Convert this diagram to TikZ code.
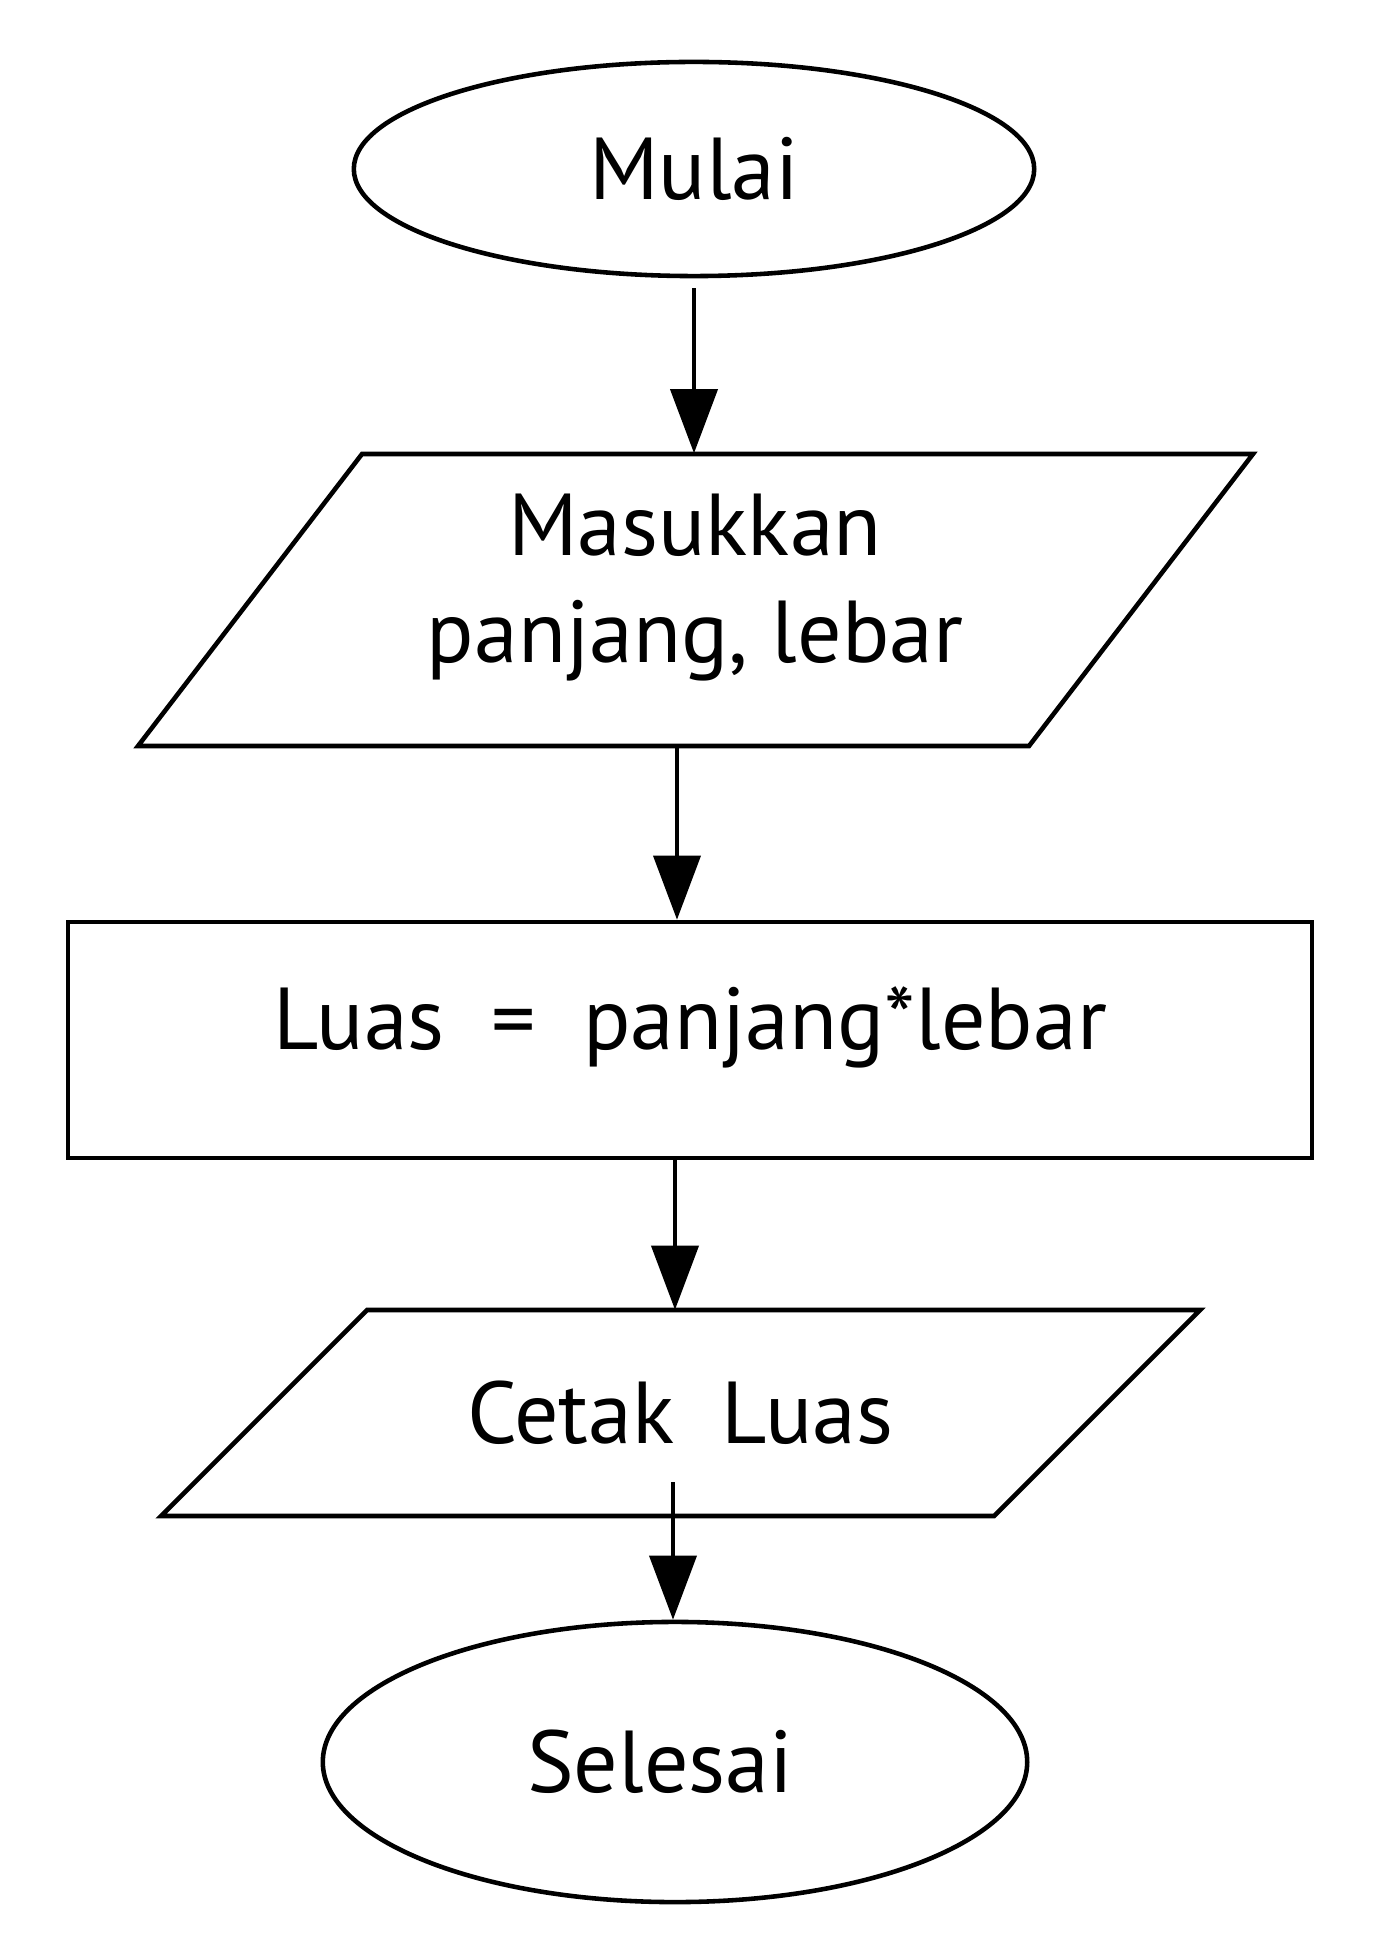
\documentclass[tikz,border=0pt]{standalone}
\usepackage{fontspec}
\setmainfont{PT Sans}
\usepackage{tikz}
\usetikzlibrary{arrows.meta, shapes.geometric}

\begin{document}
\begin{tikzpicture}[x=0.01cm, y=-0.01cm]
    \tikzstyle{terminal}=[draw,ellipse,line width=1.3pt,font=\fontsize{25}{30}\selectfont]
    \tikzstyle{io}=[rectangle,font=\fontsize{25}{30}\selectfont,align=center]
    \tikzstyle{ioline}=[draw,line width=1.3pt,line join=miter]
    \tikzstyle{process}=[draw,rectangle,line width=1.3pt,font=\fontsize{25}{30}\selectfont]
    \tikzstyle{edge} = [draw,line width=1.1pt,-{Triangle[length=0.64cm,width=0.47cm]}]

    \useasboundingbox (0,0) rectangle (1376,1949);

    \node[terminal, minimum width=6.8cm, minimum height=2.14cm] (mulai) at (694, 169) {Mulai};
    \node[io, minimum height=2.92cm] (masukkan) at (695, 600) {\raisebox{0.12cm}[\height][\depth]{\begin{tabular}{@{}c@{}}Masukkan\\[0.02cm]panjang, lebar\end{tabular}}};
    \path[ioline] (masukkan.center) ++(-333,-146) -- ++(891,0) -- ++(-224,292) -- ++(-891,0) -- cycle;
    \node[process, minimum width=12.43cm, minimum height=2.36cm] (luas) at (690, 1040) {\raisebox{0.13cm}[\height][\depth]{Luas ~=~ panjang*lebar}};
    \node[io, minimum height=2.05cm] (cetak) at (680, 1413) {Cetak~ Luas};
    \path[ioline] (cetak.center) ++(-313,-103) -- ++(833,0) -- ++(-206,206) -- ++(-833,0) -- cycle;
    \node[terminal, minimum width=7.04cm, minimum height=2.8cm] (selesai) at (675, 1762) {\hspace*{-0.3cm}Selesai};

    \path[edge] ([yshift=-0.1cm]mulai.south) -- (mulai.south |- masukkan.north);
    \path[edge] ([xshift=-0.18cm]masukkan.south) -- ([xshift=-0.18cm]masukkan.south |- luas.north);
    \path[edge] ([xshift=-0.15cm]luas.south) -- ([xshift=-0.15cm]luas.south |- cetak.north);
    \path[edge] ([xshift=-0.07cm,yshift=0.34cm]cetak.south) -- ([xshift=-0.07cm]cetak.south |- selesai.north);

\end{tikzpicture}
\end{document}
